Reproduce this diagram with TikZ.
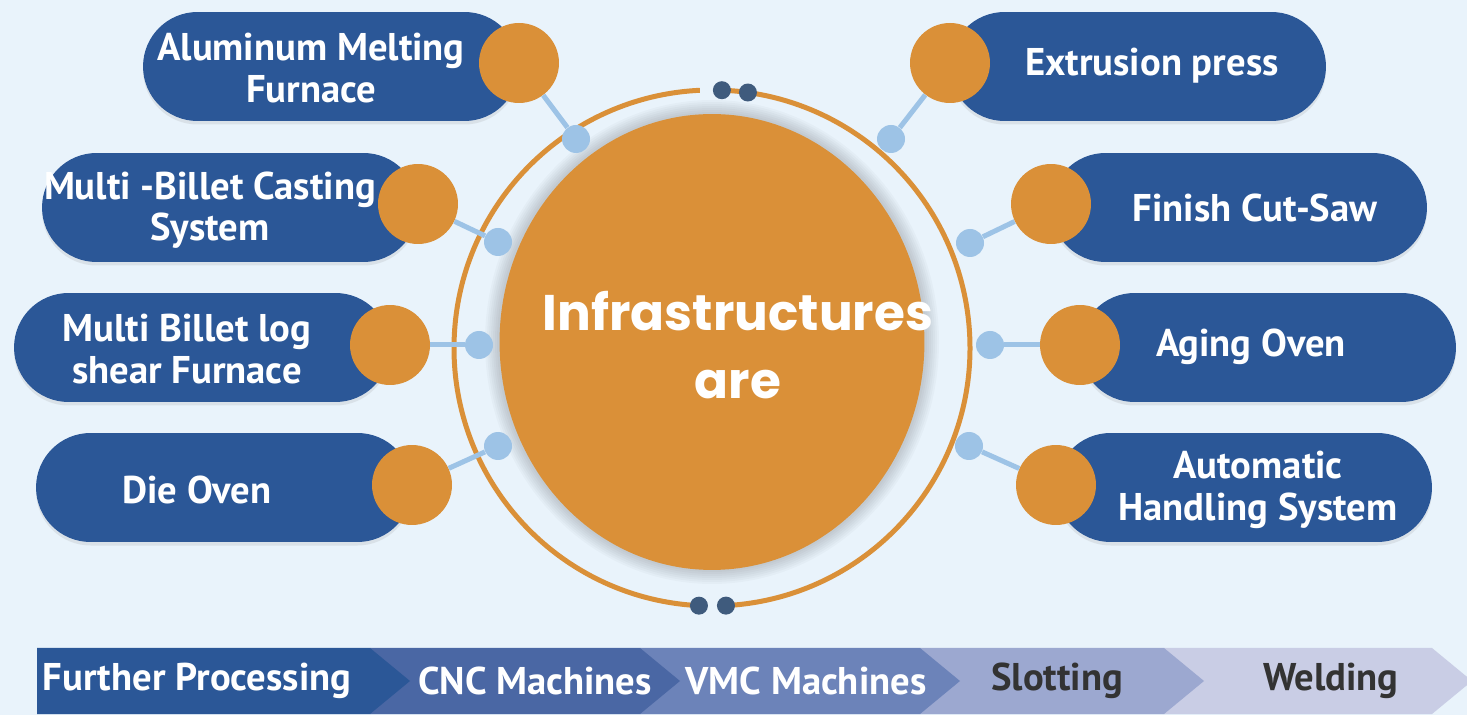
\documentclass[tikz,border=0pt]{standalone}
\usepackage{fontspec}
\setmainfont{PT Sans}
\newfontfamily\hubfont{Poppins}
\usepackage{xcolor}
\usepackage{tikz}
\usetikzlibrary{shapes.geometric,shadows}
\usetikzlibrary{calc}

\definecolor{bgblue}{HTML}{E9F3FB}
\definecolor{pillblue}{HTML}{2B5797}
\definecolor{ballorange}{HTML}{DA9038}
\definecolor{linkblue}{HTML}{9DC3E6}
\definecolor{knobgray}{HTML}{3F5B7D}
\definecolor{stepA}{HTML}{2B5797}
\definecolor{stepB}{HTML}{4A67A4}
\definecolor{stepC}{HTML}{6C83B9}
\definecolor{stepD}{HTML}{9CA8D0}
\definecolor{stepE}{HTML}{C9CDE5}
\definecolor{darktext}{HTML}{333333}

\tikzset{
  pill/.style={fill=pillblue, rounded corners=1.09cm, minimum width=7.52cm,
    minimum height=2.18cm, inner sep=0pt,
    drop shadow={opacity=0.15, shadow xshift=0pt, shadow yshift=-2pt}},
  pilltext/.style={text=white, align=center, inner sep=0pt,
    font=\fontsize{22}{23.5}\selectfont\bfseries},
  ball/.style={circle, fill=ballorange, minimum size=1.6cm, inner sep=0pt},
  dotnode/.style={circle, fill=linkblue, minimum size=0.56cm, inner sep=0pt},
  knob/.style={circle, fill=knobgray, minimum size=0.36cm, inner sep=0pt},
  link/.style={linkblue, line width=0.1cm},
  ring/.style={ballorange, line width=0.1cm},
  steptext/.style={font=\fontsize{22}{23}\selectfont\bfseries, inner sep=0pt}
}

\begin{document}
\begin{tikzpicture}[x=0.02cm, y=-0.02cm]

% Background
\fill[bgblue] (0,0) rectangle (1467,715);
\useasboundingbox (0,0) rectangle (1467,715);

% Define the main coordinates
\coordinate (C) at (712,348);
\coordinate (H) at (712,342);

% Outer ring with its gaps
\draw[ring] (C) ++(92.9:258) arc[start angle=92.9, end angle=267.3, radius=258];
\draw[ring] (C) ++(86.9:258) arc[start angle=86.9, end angle=-87.8, radius=258];
\node[knob] (k1) at ($(C)+(-87.8:258)$) {};
\node[knob] (k2) at ($(C)+(-82:258)$) {};
\node[knob] (k3) at ($(C)+(92.9:258)$) {};
\node[knob] (k4) at ($(C)+(86.9:258)$) {};

% Soft halo and the hub
\foreach \k in {1,...,7}
  \fill[black, opacity=0.025] (H) ellipse ({213+2*\k} and {228+2*\k});
\node[ellipse, fill=ballorange, minimum width=8.5cm, minimum height=9.12cm] (hub) at (H) {};
\node[text=white, align=center, inner sep=0pt,
  font=\hubfont\bfseries\fontsize{28.5}{39}\selectfont] (title) at (738,345) {Infrastructures\\are};

% Light blue dots round the hub
\node[dotnode] (d1) at (576,139) {};
\node[dotnode] (d2) at (498,242) {};
\node[dotnode] (d3) at (479,345) {};
\node[dotnode] (d4) at (498,446) {};
\node[dotnode] (d5) at (891,139) {};
\node[dotnode] (d6) at (970,243) {};
\node[dotnode] (d7) at (990,345) {};
\node[dotnode] (d8) at (969,446) {};

% Left pills
\node[pill] (p1) at (331,66.5) {};
\node[pill] (p2) at (230,207.5) {};
\node[pill] (p3) at (202,347.5) {};
\node[pill] (p4) at (224,487.5) {};

% Right pills
\node[pill] (p5) at (1138,66.5) {};
\node[pill] (p6) at (1239,207.5) {};
\node[pill] (p7) at (1268,347.5) {};
\node[pill] (p8) at (1244,487.5) {};

% Orange balls
\node[ball] (b1) at (519,63) {};
\node[ball] (b2) at (418,204) {};
\node[ball] (b3) at (390,345) {};
\node[ball] (b4) at (412,485) {};
\node[ball] (b5) at (950,63) {};
\node[ball] (b6) at (1051,204) {};
\node[ball] (b7) at (1080,345) {};
\node[ball] (b8) at (1056,485) {};

% Links from balls to dots
\draw[link] (b1) -- (d1);
\draw[link] (b2) -- (d2);
\draw[link] (b3) -- (d3);
\draw[link] (b4) -- (d4);
\draw[link] (b5) -- (d5);
\draw[link] (b6) -- (d6);
\draw[link] (b7) -- (d7);
\draw[link] (b8) -- (d8);

% Pill labels
\node[pilltext] (t1) at (311,68) {Aluminum Melting\\Furnace};
\node[pilltext] (t2) at (210,210) {Multi -Billet Casting\\System};
\node[pilltext] (t3) at (187,349) {Multi Billet log\\shear Furnace};
\node[pilltext] (t4) at (197,490) {Die Oven};
\node[pilltext] (t5) at (1152,66) {Extrusion press};
\node[pilltext] (t6) at (1255,208) {Finish Cut-Saw};
\node[pilltext] (t7) at (1251,347) {Aging Oven};
\node[pilltext] (t8) at (1258,490) {Automatic\\Handling System};

% Process bar, drawn from the back
\fill[stepE] (1164,648) -- (1432,648) -- (1472,681) -- (1432,714) -- (1164,714) -- cycle;
\fill[stepD] (920,648) -- (1164,648) -- (1204,681) -- (1164,714) -- (920,714) -- cycle;
\fill[stepC] (640,648) -- (920,648) -- (960,681) -- (920,714) -- (640,714) -- cycle;
\fill[stepB] (370,648) -- (640,648) -- (680,681) -- (640,714) -- (370,714) -- cycle;
\fill[stepA] (37,648) -- (370,648) -- (410,681) -- (370,714) -- (37,714) -- cycle;

\node[steptext, text=white] (s1) at (197,681) {Further Processing};
\node[steptext, text=white] (s2) at (535,681) {CNC Machines};
\node[steptext, text=white] (s3) at (806,681) {VMC Machines};
\node[steptext, text=darktext] (s4) at (1057,681) {Slotting};
\node[steptext, text=darktext] (s5) at (1331,681) {Welding};

\end{tikzpicture}
\end{document}
